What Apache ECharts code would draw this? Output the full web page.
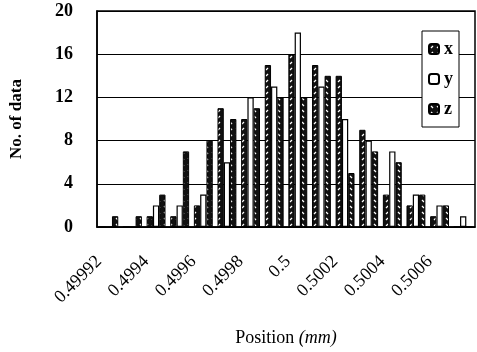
<!DOCTYPE html>
<html>
<head>
<meta charset="utf-8">
<script src="https://cdn.jsdelivr.net/npm/echarts@6/dist/echarts.min.js"></script>
<style>html,body{margin:0;padding:0;background:#fff;}#c{width:477px;height:352px;}</style>
</head>
<body>
<div id="c"></div>
<script>
const categories = ["0.49992","0.4993","0.4994","0.4995","0.4996","0.4997","0.4998","0.4999","0.5","0.5001","0.5002","0.5003","0.5004","0.5005","0.5006","0.5007"];
const xValues = [0,0,1,1,2,11,10,15,16,15,14,9,3,2,1,0];
const yValues = [0,0,2,2,3,6,12,13,18,13,10,8,7,3,2,1];
const zValues = [1,1,3,7,8,10,11,12,12,14,5,7,6,3,2,0];
const yTicks = {min:0, max:20, interval:4};

function makePattern(dir){
  const c=document.createElement('canvas'); c.width=6; c.height=6;
  const g=c.getContext('2d');
  g.fillStyle='#111'; g.fillRect(0,0,6,6);
  g.strokeStyle='#fff'; g.lineWidth=1.3; g.beginPath();
  if(dir>0){g.moveTo(2,4);g.lineTo(4,2);} else {g.moveTo(2,2);g.lineTo(4,4);}
  g.stroke();
  return c;
}
const patX={image:makePattern(1),repeat:'repeat'};
const patZ={image:makePattern(-1),repeat:'repeat'};
const serif='"Liberation Serif","DejaVu Serif",serif';

const chart=echarts.init(document.getElementById('c'),null,{renderer:'canvas'});
chart.setOption({
  animation:false,
  backgroundColor:'#fff',
  grid:{left:93,right:2,top:11,bottom:118,show:true,borderColor:'#000',borderWidth:1.5},
  legend:{
    orient:'vertical',left:422,top:31,itemWidth:10,itemHeight:10,itemGap:12,
    backgroundColor:'#fff',borderColor:'#000',borderWidth:1,padding:[9,6,9,6],
    textStyle:{fontFamily:serif,fontWeight:'bold',fontSize:18,color:'#000'},
    data:['x','y','z']
  },
  xAxis:{
    type:'category',data:categories,
    axisLine:{lineStyle:{color:'#000',width:1.5}},
    axisTick:{show:false},
    axisLabel:{interval:1,rotate:45,margin:22,padding:[0,14,0,0],fontFamily:serif,fontSize:18,color:'#000'},
    name:'{a|Position }{b|(mm)}',nameLocation:'middle',nameGap:102,
    nameTextStyle:{rich:{a:{fontFamily:serif,fontSize:18,color:'#000'},b:{fontFamily:serif,fontSize:18,fontStyle:'italic',color:'#000'}}}
  },
  yAxis:{
    type:'value',min:yTicks.min,max:yTicks.max,interval:yTicks.interval,
    axisLine:{show:true,lineStyle:{color:'#000',width:1.5}},
    axisTick:{show:false},
    splitLine:{lineStyle:{color:'#000',width:1}},
    axisLabel:{margin:24,fontFamily:serif,fontWeight:'bold',fontSize:18,color:'#000'},
    name:'No. of data',nameLocation:'middle',nameGap:72,nameRotate:90,
    nameTextStyle:{fontFamily:serif,fontWeight:'bold',fontSize:17,color:'#000'}
  },
  series:[
    {name:'x',type:'bar',data:xValues,barGap:'0%',barCategoryGap:'20%',
     itemStyle:{color:patX,borderColor:'#000',borderWidth:1}},
    {name:'y',type:'bar',data:yValues,barGap:'0%',barCategoryGap:'20%',
     itemStyle:{color:'#fff',borderColor:'#000',borderWidth:1.2}},
    {name:'z',type:'bar',data:zValues,barGap:'0%',barCategoryGap:'20%',
     itemStyle:{color:patZ,borderColor:'#000',borderWidth:1}}
  ]
});
</script>
</body>
</html>
